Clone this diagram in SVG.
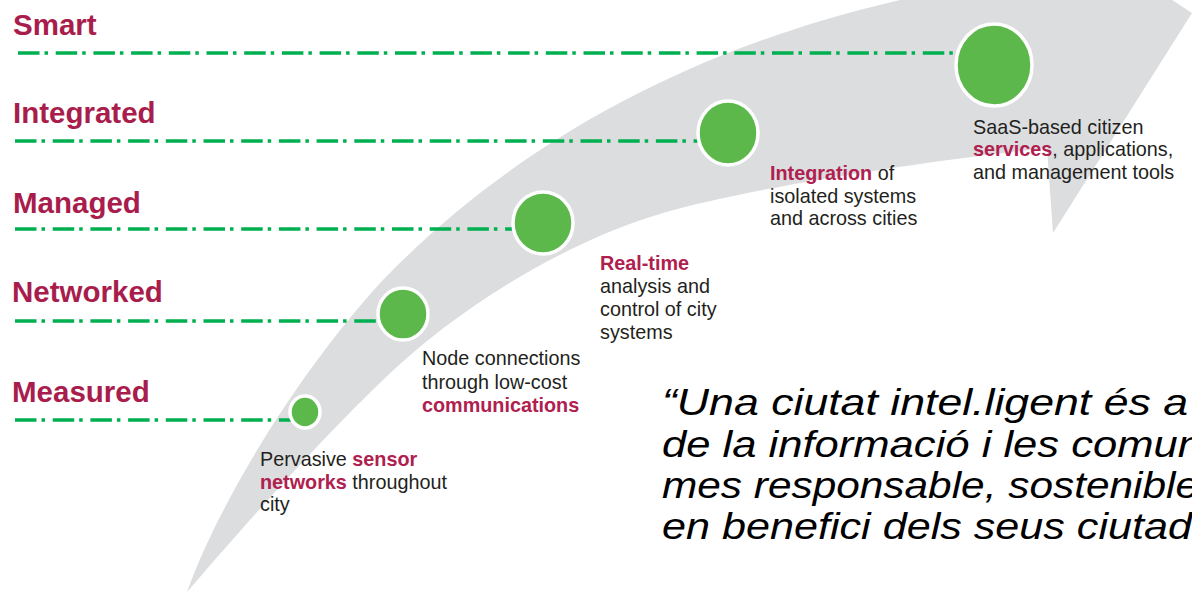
<svg xmlns="http://www.w3.org/2000/svg" width="1192" height="601" viewBox="0 0 1192 601">
  <style>
    .head { font-family: "Liberation Sans", Arial, sans-serif; font-weight: bold; font-size: 29.5px; fill: #A81D4C; }
    .desc { font-family: "Liberation Sans", Arial, sans-serif; font-size: 19.8px; fill: #231F20; }
    .em { font-weight: bold; fill: #B0204F; }
    .dot { fill: #5CB84B; stroke: #FFFFFF; stroke-width: 3.5; }
    .lvl { stroke: #00B050; stroke-width: 3.5; fill: none; stroke-dasharray: 21.5 5 3.5 7.7; }
    .quote { font-family: "Liberation Sans", Arial, sans-serif; font-style: italic; font-size: 36px; fill: #000000; }
  </style>
  <rect width="1192" height="601" fill="#FFFFFF"/>
  <g id="arrow">
    <path d="M187,592 C220,500 300,370 383,280 C480,180 640,60 900,0 L1000,-28 L1100,-47 L1192,13 L1053,233 L1047,148 C950,158 760,185 663,213 C570,240 460,305 383,380 C320,440 240,530 187,592 Z" fill="#DCDDDF"/>
  </g>
  <g id="connectors">
    <line class="lvl" x1="18" y1="53" x2="990" y2="53"/>
    <line class="lvl" x1="15" y1="141" x2="725" y2="141"/>
    <line class="lvl" x1="15" y1="229" x2="540" y2="229"/>
    <line class="lvl" x1="15" y1="321" x2="400" y2="321"/>
    <line class="lvl" x1="15" y1="420" x2="303" y2="420"/>
  </g>
  <g id="node-measured">
    <text class="head" x="12" y="402">Measured</text>
    <ellipse class="dot" cx="305" cy="412" rx="15" ry="16"/>
    <text class="desc" x="260" y="466">Pervasive <tspan class="em">sensor</tspan></text>
    <text class="desc" x="260" y="488.5"><tspan class="em">networks</tspan> throughout</text>
    <text class="desc" x="260" y="511">city</text>
  </g>
  <g id="node-networked">
    <text class="head" x="12" y="302">Networked</text>
    <ellipse class="dot" cx="403" cy="314" rx="25" ry="26"/>
    <text class="desc" x="422" y="365">Node connections</text>
    <text class="desc" x="422" y="388.5">through low-cost</text>
    <text class="desc" x="422" y="411.5"><tspan class="em">communications</tspan></text>
  </g>
  <g id="node-managed">
    <text class="head" x="13" y="213">Managed</text>
    <ellipse class="dot" cx="543" cy="223" rx="30" ry="31"/>
    <text class="desc" x="600" y="270"><tspan class="em">Real-time</tspan></text>
    <text class="desc" x="600" y="293">analysis and</text>
    <text class="desc" x="600" y="316">control of city</text>
    <text class="desc" x="600" y="339">systems</text>
  </g>
  <g id="node-integrated">
    <text class="head" x="13" y="123">Integrated</text>
    <ellipse class="dot" cx="728" cy="133" rx="30" ry="32"/>
    <text class="desc" x="770" y="180"><tspan class="em">Integration</tspan> of</text>
    <text class="desc" x="770" y="202.5">isolated systems</text>
    <text class="desc" x="770" y="225">and across cities</text>
  </g>
  <g id="node-smart">
    <text class="head" x="13" y="35">Smart</text>
    <ellipse class="dot" cx="994" cy="65" rx="38" ry="41"/>
    <text class="desc" x="973" y="133.5">SaaS-based citizen</text>
    <text class="desc" x="973" y="156"><tspan class="em">services</tspan>, applications,</text>
    <text class="desc" x="973" y="179">and management tools</text>
  </g>
  <g id="quote">
    <text class="quote" x="662" y="415" textLength="526" lengthAdjust="spacingAndGlyphs">“Una ciutat intel.ligent és a</text>
    <text class="quote" x="662" y="457" textLength="540" lengthAdjust="spacingAndGlyphs">de la informació i les comun</text>
    <text class="quote" x="662" y="498" textLength="537" lengthAdjust="spacingAndGlyphs">mes responsable, sostenible</text>
    <text class="quote" x="662" y="539" textLength="530" lengthAdjust="spacingAndGlyphs">en benefici dels seus ciutad</text>
  </g>
</svg>
